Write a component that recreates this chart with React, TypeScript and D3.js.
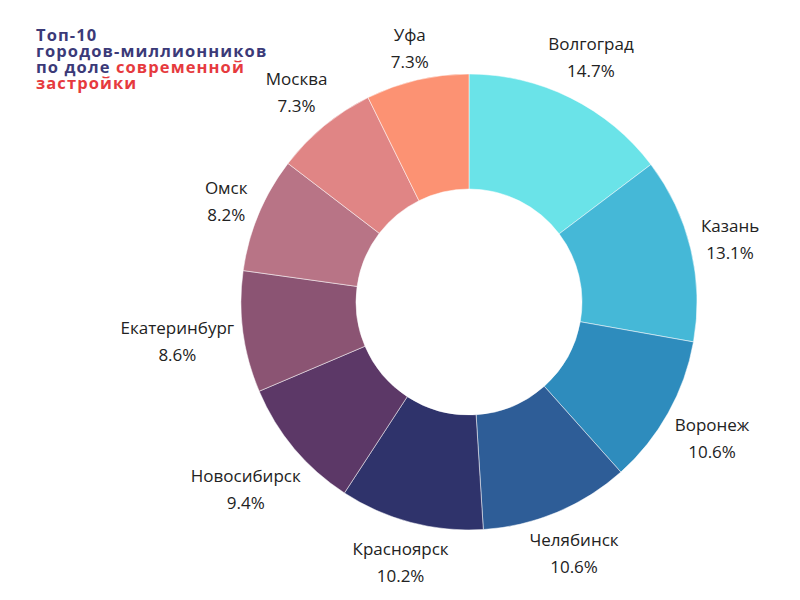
import React from "react";
import * as d3 from "d3";

const cities = ["Волгоград", "Казань", "Воронеж", "Челябинск", "Красноярск", "Новосибирск", "Екатеринбург", "Омск", "Москва", "Уфа"];
const shares = [14.7, 13.1, 10.6, 10.6, 10.2, 9.4, 8.6, 8.2, 7.3, 7.3];
const colors = ["#6ae3e8", "#45b8d7", "#2e8cbd", "#2e5d97", "#2f336b", "#5c3867", "#8b5473", "#b87486", "#e08585", "#fc9273"];

const W = 800, H = 600;
const cx = 469, cy = 302;
const outerR = 228, innerR = 113;
const labelR = 235;
const FONT = "'Open Sans', 'Noto Sans', sans-serif";
const LABEL_SIZE = 17;

let ctx: CanvasRenderingContext2D | null = null;
function textWidth(s: string): number {
  if (typeof document !== "undefined") {
    if (!ctx) ctx = document.createElement("canvas").getContext("2d");
    if (ctx) {
      ctx.font = `${LABEL_SIZE}px 'Open Sans'`;
      return ctx.measureText(s).width;
    }
  }
  return s.length * 9;
}

export default function App() {
  const data = cities.map((c, i) => ({ city: c, value: shares[i], color: colors[i] }));
  const pie = d3.pie<any>().value((d: any) => d.value).sort(null);
  const arcs = pie(data);
  const arc = d3.arc<any>().innerRadius(innerR).outerRadius(outerR);

  return (
    <svg width={W} height={H} style={{ position: "absolute", left: 0, top: 0, background: "#fff" }}>
      <rect width={W} height={H} fill="#fff" />
      <g transform={`translate(${cx},${cy})`}>
        {arcs.map((a, i) => (
          <path key={i} d={arc(a) as string} fill={a.data.color} stroke="#fff" strokeWidth={0.5} />
        ))}
        {arcs.map((a, i) => {
          const mid = (a.startAngle + a.endAngle) / 2;
          const pct = a.data.value.toFixed(1) + "%";
          const hw = Math.max(textWidth(a.data.city), textWidth(pct)) / 2;
          const hh = 22;
          const r = labelR + hw * Math.abs(Math.sin(mid)) + hh * Math.abs(Math.cos(mid));
          const x = r * Math.sin(mid);
          const y = -r * Math.cos(mid);
          return (
            <g key={"l" + i} transform={`translate(${x},${y})`} fontFamily={FONT} fontSize={LABEL_SIZE} fill="#222" textAnchor="middle">
              <text y={-7}>{a.data.city}</text>
              <text y={20}>{pct}</text>
            </g>
          );
        })}
      </g>
      <g fontFamily={FONT} fontWeight={700} fontSize={16.5} letterSpacing={1.1}>
        <text x={36} y={41} fill="#3b3a78">Топ-10</text>
        <text x={36} y={57} fill="#3b3a78">городов-миллионников</text>
        <text x={36} y={73} fill="#3b3a78">по доле <tspan fill="#e63a3e">современной</tspan></text>
        <text x={36} y={89} fill="#e63a3e">застройки</text>
      </g>
    </svg>
  );
}
